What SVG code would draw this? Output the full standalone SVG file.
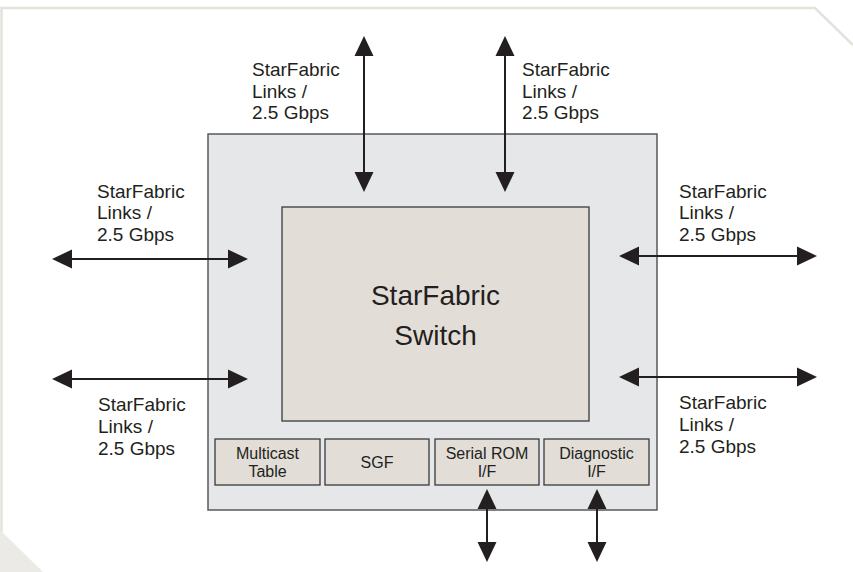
<svg xmlns="http://www.w3.org/2000/svg" width="853" height="572" viewBox="0 0 853 572">
  <style>
    .frame { fill: none; stroke: #e5e2dc; stroke-width: 2.5; }
    .chip { fill: #e6e7e9; stroke: #58595b; stroke-width: 1.5; }
    .block { fill: #e2ddd7; stroke: #3a3a3a; stroke-width: 1.3; }
    .lbl { font-family: "Liberation Sans", Arial, sans-serif; font-size: 19px; fill: #231f20; }
    .big { font-family: "Liberation Sans", Arial, sans-serif; font-size: 28px; fill: #231f20; text-anchor: middle; }
    .small { font-family: "Liberation Sans", Arial, sans-serif; font-size: 16px; fill: #231f20; text-anchor: middle; }
    .link { stroke: #231f20; stroke-width: 2; fill: none; marker-start: url(#ah); marker-end: url(#ah); }
  </style>
  <defs>
    <marker id="ah" viewBox="0 0 20 20" refX="16" refY="10" markerWidth="20" markerHeight="20" markerUnits="userSpaceOnUse" orient="auto-start-reverse">
      <path d="M0,0.5 L20,10 L0,19.5 Z" fill="#231f20"/>
    </marker>
  </defs>
  <rect x="0" y="0" width="853" height="572" fill="#ffffff"/>
  <g id="background">
    <path class="frame" d="M1.5,572 L1.5,8 L815,8 L853,45"/>
    <polygon points="0,530 43,572 0,572" fill="#eceae6"/>
  </g>
  <g id="chip">
    <rect class="chip" x="208" y="134" width="449" height="376"/>
  </g>
  <g id="switch">
    <rect class="block" x="282" y="207" width="307" height="214"/>
    <text class="big" x="435.5" y="305">StarFabric</text>
    <text class="big" x="435.5" y="345">Switch</text>
  </g>
  <g id="multicast-table">
    <rect class="block" x="215" y="439" width="105" height="46"/>
    <text class="small" x="267.5" y="459">Multicast</text>
    <text class="small" x="267.5" y="477">Table</text>
  </g>
  <g id="sgf">
    <rect class="block" x="325" y="439" width="104" height="46"/>
    <text class="small" x="377" y="468">SGF</text>
  </g>
  <g id="serial-rom">
    <rect class="block" x="435" y="439" width="104" height="46"/>
    <text class="small" x="487" y="459">Serial ROM</text>
    <text class="small" x="487" y="477">I/F</text>
  </g>
  <g id="diagnostic">
    <rect class="block" x="544" y="439" width="105" height="46"/>
    <text class="small" x="596.5" y="459">Diagnostic</text>
    <text class="small" x="596.5" y="477">I/F</text>
  </g>
  <g id="connectors">
    <line class="link" x1="364" y1="40" x2="364" y2="188"/>
    <line class="link" x1="505" y1="40" x2="505" y2="188"/>
    <line class="link" x1="56" y1="259" x2="244" y2="259"/>
    <line class="link" x1="56" y1="379" x2="244" y2="379"/>
    <line class="link" x1="623" y1="256" x2="813" y2="256"/>
    <line class="link" x1="623" y1="377" x2="813" y2="377"/>
    <line class="link" x1="487" y1="493" x2="487" y2="558"/>
    <line class="link" x1="597" y1="493" x2="597" y2="558"/>
  </g>
  <g id="labels">
    <text class="lbl" x="252" y="76">StarFabric</text>
    <text class="lbl" x="252" y="98">Links /</text>
    <text class="lbl" x="252" y="119">2.5 Gbps</text>
    <text class="lbl" x="522" y="76">StarFabric</text>
    <text class="lbl" x="522" y="98">Links /</text>
    <text class="lbl" x="522" y="119">2.5 Gbps</text>
    <text class="lbl" x="97" y="198">StarFabric</text>
    <text class="lbl" x="97" y="219">Links /</text>
    <text class="lbl" x="97" y="241">2.5 Gbps</text>
    <text class="lbl" x="679" y="198">StarFabric</text>
    <text class="lbl" x="679" y="219">Links /</text>
    <text class="lbl" x="679" y="241">2.5 Gbps</text>
    <text class="lbl" x="98" y="411">StarFabric</text>
    <text class="lbl" x="98" y="433">Links /</text>
    <text class="lbl" x="98" y="455">2.5 Gbps</text>
    <text class="lbl" x="679" y="409">StarFabric</text>
    <text class="lbl" x="679" y="431">Links /</text>
    <text class="lbl" x="679" y="453">2.5 Gbps</text>
  </g>
</svg>
